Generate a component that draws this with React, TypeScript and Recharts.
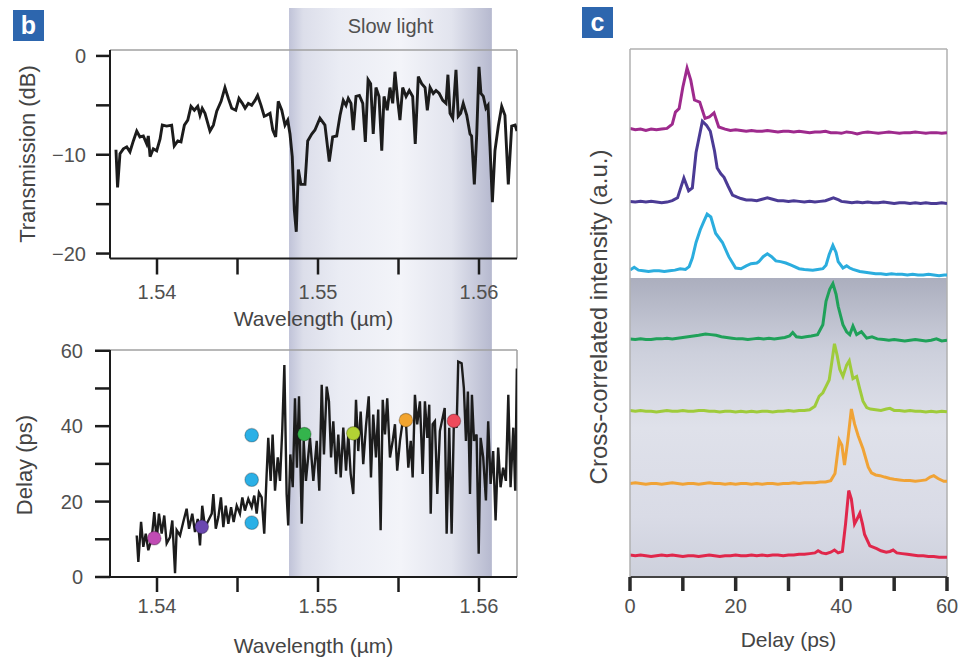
import React from 'react';
import {
  ComposedChart,
  LineChart,
  Line,
  Scatter,
  Cell,
  XAxis,
  YAxis,
  ReferenceArea,
  ReferenceLine,
} from 'recharts';

const FONT = '"Liberation Sans", Arial, Helvetica, sans-serif';
const INK = '#1c1c1c';
const FRAME = '#a0a0a0';
const TICK_TEXT = { fill: '#505050', fontSize: 20, fontFamily: FONT };

// ---- panel b: transmission spectrum (wavelength in µm, transmission in dB)
const wavelength = [
  1.53745, 1.53755, 1.5377, 1.53791, 1.53812, 1.53832, 1.53853, 1.53874, 1.53894, 1.53915,
  1.53936, 1.53946, 1.53957, 1.53977, 1.53998, 1.54019, 1.54033, 1.5406, 1.54091, 1.54107,
  1.54129, 1.54149, 1.5417, 1.54191, 1.54211, 1.54232, 1.54253, 1.54267, 1.54281, 1.54298,
  1.54329, 1.5435, 1.54371, 1.54398, 1.54422, 1.54443, 1.54464, 1.54489, 1.54509, 1.5453,
  1.54547, 1.54567, 1.54588, 1.54609, 1.54625, 1.54646, 1.54666, 1.54681, 1.54702, 1.54719,
  1.54737, 1.54753, 1.54775, 1.54795, 1.54812, 1.54826, 1.5484, 1.54853, 1.54865, 1.54878,
  1.54894, 1.54919, 1.54936, 1.54961, 1.54981, 1.55012, 1.55043, 1.5507, 1.55091, 1.55116,
  1.55137, 1.55157, 1.55174, 1.55188, 1.55205, 1.55219, 1.55236, 1.55257, 1.55278, 1.55294,
  1.55311, 1.55327, 1.55343, 1.5536, 1.55379, 1.55396, 1.5541, 1.5543, 1.55447, 1.55464,
  1.55478, 1.55495, 1.55509, 1.55526, 1.55547, 1.55567, 1.55588, 1.55604, 1.55623, 1.55644,
  1.55665, 1.55679, 1.55696, 1.55716, 1.55733, 1.55753, 1.55775, 1.55795, 1.55807, 1.5582,
  1.55837, 1.55857, 1.55871, 1.55886, 1.55902, 1.55924, 1.55944, 1.55954, 1.55971, 1.55986,
  1.56, 1.56012, 1.56027, 1.56043, 1.56056, 1.56068, 1.56083, 1.56099, 1.5612, 1.56141,
  1.56161, 1.56182, 1.56203, 1.56224, 1.56236,
];
const transmission = [
  -9.5, -13.3, -9.9, -9.4, -9.2, -9.7, -8.6, -7.6, -8.2, -8.1,
  -8.9, -8.1, -10.2, -9.4, -9.6, -8.4, -7.0, -7.1, -7.0, -9.1,
  -8.6, -8.7, -7.0, -6.5, -5.1, -5.5, -5.1, -6.0, -5.3, -5.8,
  -7.6, -7.0, -5.6, -4.6, -3.2, -4.3, -5.3, -5.5, -4.3, -4.8,
  -5.3, -4.8, -5.0, -4.5, -4.0, -5.0, -6.1, -6.0, -5.8, -7.5,
  -8.2, -4.6, -5.5, -7.0, -6.5, -7.9, -10.2, -15.6, -17.8, -11.5,
  -13.0, -13.0, -8.6, -7.9, -7.5, -6.3, -7.0, -10.7, -8.2, -8.1,
  -6.0, -4.5, -5.0, -4.3, -4.8, -7.5, -4.1, -4.0, -4.8, -8.7,
  -2.4, -2.8, -7.9, -3.2, -4.1, -9.6, -4.1, -5.5, -3.2, -4.8,
  -1.6, -4.5, -6.5, -3.2, -4.1, -3.5, -4.1, -8.9, -2.1, -2.8,
  -3.2, -5.5, -3.2, -3.8, -3.5, -3.8, -4.5, -4.8, -1.9, -5.8,
  -6.3, -1.4, -6.1, -5.8, -4.8, -6.0, -7.9, -8.1, -13.0, -7.9,
  -1.1, -3.8, -4.1, -5.3, -5.0, -9.1, -14.8, -9.6, -7.1, -5.1,
  -6.0, -13.0, -7.1, -7.0, -7.6,
];

// ---- panel b: measured delay (wavelength µm, delay ps)
const delayTrace: [number, number][] = [
  [1.53874, 11.0], [1.53884, 4.0], [1.53901, 14.6], [1.53915, 8.0], [1.5393, 11.5],
  [1.53946, 7.1], [1.53967, 10.2], [1.53983, 17.2], [1.53998, 9.7], [1.54012, 16.8],
  [1.54029, 11.5], [1.54045, 16.3], [1.5406, 8.9], [1.54081, 10.6], [1.54095, 15.0],
  [1.54112, 1.0], [1.54122, 12.4], [1.54143, 11.0], [1.54163, 14.6], [1.54184, 18.1],
  [1.54199, 12.8], [1.54219, 16.8], [1.54236, 11.9], [1.54253, 15.4], [1.54267, 8.4],
  [1.54281, 18.9], [1.54298, 13.2], [1.54319, 15.0], [1.5434, 16.8], [1.5435, 22.0],
  [1.54365, 12.8], [1.54381, 15.9], [1.54397, 21.1], [1.54412, 13.2], [1.54427, 18.9],
  [1.54443, 14.1], [1.5446, 18.5], [1.54476, 14.6], [1.54495, 18.9], [1.54515, 16.8],
  [1.5453, 21.1], [1.54546, 17.6], [1.54567, 20.7], [1.54588, 18.5], [1.54604, 21.6],
  [1.54619, 16.8], [1.54633, 22.4], [1.5465, 21.1], [1.54666, 11.5], [1.54681, 27.3],
  [1.54691, 36.9], [1.54706, 25.5], [1.54718, 37.8], [1.54733, 22.9], [1.5475, 31.7],
  [1.54764, 25.5], [1.54778, 39.1], [1.54791, 56.2], [1.54805, 22.0], [1.54815, 13.7],
  [1.54828, 32.5], [1.54843, 23.8], [1.54857, 47.4], [1.54869, 29.0], [1.54882, 47.9],
  [1.54899, 14.1], [1.54911, 36.1], [1.54925, 25.5], [1.5495, 36.9], [1.54971, 25.5],
  [1.54992, 36.1], [1.55008, 22.9], [1.55023, 51.0], [1.55037, 32.5], [1.55054, 50.5],
  [1.55068, 46.6], [1.55081, 31.7], [1.55095, 41.3], [1.55112, 27.3], [1.55126, 37.8],
  [1.55141, 26.4], [1.55157, 39.6], [1.55174, 28.2], [1.55188, 37.8], [1.55203, 27.3],
  [1.55219, 22.0], [1.55236, 47.0], [1.5525, 33.4], [1.55265, 43.9], [1.55281, 29.9],
  [1.55298, 40.0], [1.55315, 47.9], [1.55329, 26.4], [1.55343, 43.1], [1.5536, 31.7],
  [1.55374, 44.4], [1.55389, 12.4], [1.55402, 47.0], [1.55416, 37.8], [1.5543, 47.4],
  [1.55447, 31.7], [1.55464, 36.1], [1.55478, 40.5], [1.55492, 28.2], [1.55509, 36.1],
  [1.55526, 41.3], [1.55546, 41.3], [1.55561, 29.0], [1.55576, 36.1], [1.55588, 26.4],
  [1.55602, 48.3], [1.55616, 40.5], [1.55633, 46.6], [1.5565, 27.3], [1.55664, 46.6],
  [1.55679, 36.9], [1.55691, 45.7], [1.557, 16.8], [1.55712, 40.5], [1.55726, 41.3],
  [1.55741, 22.0], [1.55757, 38.7], [1.55774, 42.2], [1.55787, 44.8], [1.55799, 11.5],
  [1.55815, 39.6], [1.5583, 11.5], [1.55844, 41.3], [1.55861, 39.6], [1.55871, 57.1],
  [1.55892, 56.7], [1.55906, 50.1], [1.55919, 36.1], [1.55931, 49.2], [1.55944, 22.0],
  [1.55956, 48.3], [1.55969, 36.1], [1.55985, 37.8], [1.55998, 6.2], [1.5601, 36.9],
  [1.56026, 31.7], [1.56043, 20.3], [1.56057, 41.3], [1.56072, 24.7], [1.56088, 33.4],
  [1.56103, 15.0], [1.56119, 34.3], [1.56134, 23.8], [1.5615, 29.0], [1.56167, 25.5],
  [1.56182, 48.3], [1.56196, 23.8], [1.56213, 39.6], [1.56225, 22.9], [1.56235, 55.3],
];

// probe pulses marked on the delay curve
const probeWavelength = [1.53983, 1.54278, 1.54588, 1.54588, 1.54588, 1.54915, 1.55219, 1.55546, 1.55844];
const probeDelay = [10.3, 13.3, 37.6, 25.8, 14.4, 37.9, 38.1, 41.6, 41.4];
const probeColors = ['#c04cb4', '#6a47b0', '#2bb0e6', '#2bb0e6', '#2bb0e6', '#34b44c', '#b3d234', '#f2a42e', '#ee4a5c'];

const wlDomain: [number, number] = [1.53708, 1.56236];
const wlTicks = [1.54, 1.545, 1.55, 1.555, 1.56];
const slowLight = [1.5482, 1.5608];

// ---- panel c: cross-correlation traces, [delay ps, intensity a.u.]
const magentaTrace: [number, number][] = [
  [0, 0.02], [1, 0.0], [2, 0.01], [3, -0.01], [4, 0.01], [5, 0.0], [6, 0.01], [7, 0.02], [8, 0.08],
  [8.6, 0.25], [9.3, 0.3], [10, 0.6], [10.8, 0.87], [11.5, 0.7], [12.2, 0.42], [13.2, 0.39],
  [14.2, 0.16], [15, 0.18], [15.9, 0.24], [16.8, 0.04], [18, 0.01], [19, -0.01], [20, 0.0],
  [21, -0.01], [22, -0.02], [23, -0.01], [24, -0.02], [25, -0.02], [26, -0.01], [27, -0.02],
  [28, -0.03], [29, -0.02], [30, -0.02], [31, -0.03], [32, -0.02], [33, -0.03], [34, -0.04],
  [35, -0.03], [36, -0.03], [37, -0.02], [38, -0.04], [39, -0.04], [40, -0.05], [41, -0.03],
  [42, -0.04], [43, -0.06], [44, -0.04], [45, -0.03], [46, -0.04], [47, -0.05], [48, -0.04],
  [49, -0.03], [50, -0.04], [51, -0.05], [52, -0.04], [53, -0.04], [54, -0.03], [55, -0.04],
  [56, -0.05], [57, -0.04], [58, -0.04], [59, -0.05], [60, -0.04],
];
const indigoTrace: [number, number][] = [
  [0, 0.01], [1, 0.0], [2, 0.01], [3, 0.0], [4, 0.01], [5, 0.0], [6, -0.01], [7, 0.0], [8, 0.02],
  [9, 0.06], [9.6, 0.2], [10.2, 0.34], [11.1, 0.16], [11.8, 0.2], [12.5, 0.7], [13.7, 1.14],
  [14.5, 1.08], [15.2, 1.0], [16, 0.72], [16.5, 0.48], [17.2, 0.4], [17.8, 0.35], [18.6, 0.22],
  [19.4, 0.1], [20.3, 0.07], [21, 0.05], [22, 0.03], [23, 0.03], [24, 0.02], [25, 0.04],
  [26, 0.06], [27, 0.04], [28, 0.02], [29, 0.02], [30, 0.01], [31, 0.02], [32, 0.01], [33, 0.0],
  [34, 0.01], [35, 0.0], [36, 0.01], [37, 0.02], [38.5, 0.06], [39.5, 0.03], [40, 0.01],
  [41, 0.0], [42, -0.01], [43, 0.0], [44, -0.01], [45, 0.0], [46, -0.01], [47, -0.01], [48, 0.0],
  [49, -0.01], [50, -0.02], [51, -0.01], [52, -0.01], [53, -0.02], [54, -0.01], [55, -0.02],
  [56, -0.01], [57, -0.02], [58, -0.02], [59, -0.01], [60, -0.02],
];
const cyanTrace: [number, number][] = [
  [0, 0.03], [0.8, 0.07], [1.6, 0.03], [2.5, 0.02], [3.5, 0.01], [4.5, 0.02], [5.5, 0.02],
  [6.5, 0.01], [7.5, 0.02], [8.5, 0.03], [9.5, 0.05], [10.5, 0.04], [11.2, 0.08], [11.8, 0.2],
  [12.5, 0.42], [13.3, 0.6], [14, 0.72], [14.6, 0.82], [15.3, 0.78], [16.2, 0.55], [17.5, 0.42],
  [18.7, 0.22], [20, 0.06], [21, 0.05], [22, 0.09], [22.9, 0.12], [24, 0.13], [24.4, 0.15],
  [25.2, 0.22], [26, 0.26], [26.8, 0.22], [27.6, 0.16], [28.5, 0.15], [29.5, 0.13], [30.5, 0.1],
  [32, 0.05], [33, 0.04], [34.6, 0.03], [35.5, 0.04], [36.5, 0.05], [37.1, 0.1], [37.7, 0.25],
  [38.4, 0.38], [39, 0.28], [39.4, 0.15], [40.3, 0.06], [41, 0.09], [41.6, 0.06], [42.2, 0.04],
  [43.5, 0.01], [44.5, 0.0], [45.5, -0.01], [46.5, -0.02], [47.5, -0.02], [48.5, -0.03],
  [49.5, -0.02], [50.5, -0.03], [51.5, -0.03], [52.5, -0.04], [53.5, -0.03], [54.5, -0.04],
  [55.5, -0.04], [56.5, -0.03], [57.5, -0.04], [58.5, -0.05], [59.5, -0.04], [60, -0.04],
];
const greenTrace: [number, number][] = [
  [0, 0.02], [1, 0.01], [2, 0.02], [3, 0.01], [4, 0.01], [5, 0.02], [6, 0.02], [7, 0.03], [8, 0.02],
  [9, 0.03], [10, 0.04], [11, 0.05], [12, 0.06], [13, 0.07], [14.3, 0.09], [15.3, 0.08],
  [16.3, 0.07], [17.3, 0.05], [18.3, 0.04], [19.3, 0.03], [20.3, 0.02], [21.3, 0.02], [22.3, 0.01],
  [23.3, 0.02], [24.3, 0.03], [25.3, 0.02], [26.3, 0.03], [27.3, 0.02], [28.3, 0.03], [29.3, 0.04],
  [30.2, 0.06], [30.8, 0.11], [31.5, 0.05], [32.5, 0.04], [33.3, 0.05], [34.3, 0.06], [35.5, 0.08],
  [36.5, 0.22], [37.1, 0.55], [37.8, 0.72], [38.4, 0.8], [39, 0.65], [39.4, 0.48], [40.3, 0.22],
  [41, 0.12], [41.6, 0.08], [42.2, 0.2], [42.9, 0.08], [43.8, 0.12], [44.8, 0.03], [45.8, 0.05],
  [46.8, 0.02], [48, 0.01], [49, 0.0], [50, 0.01], [51, 0.0], [52, -0.01], [53, 0.0], [54, 0.01],
  [55, 0.0], [56, -0.01], [57, 0.0], [58, 0.02], [59, -0.01], [60, 0.0],
];
const limeTrace: [number, number][] = [
  [0, 0.02], [1, 0.01], [2, 0.02], [3, 0.01], [4, 0.01], [5, 0.0], [6, 0.01], [7, 0.02], [8, 0.01],
  [9, 0.01], [10, 0.02], [11, 0.01], [12, 0.01], [13, 0.02], [14, 0.02], [15, 0.01], [16, 0.01],
  [17, 0.0], [18, 0.01], [19, 0.01], [20, 0.0], [21, 0.01], [22, 0.0], [23, 0.01], [24, 0.0],
  [25, 0.01], [26, 0.01], [27, 0.0], [28, 0.01], [29, 0.01], [30, 0.02], [31, 0.01], [32, 0.02],
  [33, 0.02], [34, 0.03], [35, 0.08], [35.8, 0.22], [36.5, 0.27], [37.1, 0.36], [37.7, 0.45],
  [38.1, 0.65], [38.7, 0.96], [39.2, 0.8], [39.7, 0.6], [40.3, 0.5], [41, 0.66], [41.5, 0.72],
  [42.2, 0.47], [42.9, 0.5], [43.5, 0.32], [44.1, 0.15], [44.8, 0.06], [45.5, 0.04], [46.5, 0.03],
  [47.5, 0.02], [48.5, 0.04], [49.2, 0.05], [50, 0.02], [51, 0.02], [52, 0.01], [53, 0.02],
  [54, 0.01], [55, 0.01], [56, 0.0], [57, 0.01], [58, 0.0], [59, 0.01], [60, 0.0],
];
const orangeTrace: [number, number][] = [
  [0, 0.01], [1, 0.02], [2, 0.01], [3, 0.0], [4, 0.01], [5, 0.01], [6, 0.0], [7, 0.01], [8, 0.02],
  [9, 0.01], [10, 0.0], [11, 0.01], [12, 0.01], [13, 0.0], [14, 0.01], [15, 0.02], [16, 0.01],
  [17, 0.01], [18, 0.0], [19, 0.01], [20, 0.0], [21, 0.01], [22, 0.01], [23, 0.0], [24, 0.01],
  [25, 0.0], [26, 0.01], [27, 0.01], [28, 0.0], [29, 0.01], [30, 0.01], [31, 0.02], [32, 0.01],
  [33, 0.02], [34, 0.02], [35, 0.02], [36, 0.03], [37, 0.03], [38, 0.05], [38.8, 0.15],
  [39.6, 0.62], [40.1, 0.55], [40.6, 0.27], [41.2, 0.6], [41.9, 1.06], [42.5, 0.85], [43.2, 0.68],
  [44.1, 0.5], [45.1, 0.24], [45.7, 0.16], [46.5, 0.13], [47.3, 0.12], [48.2, 0.1], [49.2, 0.08],
  [50, 0.07], [51, 0.06], [52, 0.05], [53, 0.05], [54, 0.04], [55, 0.05], [56, 0.06], [56.8, 0.1],
  [57.5, 0.12], [58.3, 0.08], [59.4, 0.04], [60, 0.04],
];
const redTrace: [number, number][] = [
  [0, 0.01], [1, 0.0], [2, 0.01], [3, 0.0], [4, -0.01], [5, 0.0], [6, 0.01], [7, 0.0], [8, 0.01],
  [9, 0.0], [10, -0.01], [11, 0.0], [12, 0.0], [13, -0.01], [14, 0.0], [15, 0.01], [16, 0.0],
  [17, -0.01], [18, 0.0], [19, 0.0], [20, 0.01], [21, 0.0], [22, 0.0], [23, 0.01], [24, 0.0],
  [25, 0.01], [26, 0.0], [27, 0.01], [28, 0.01], [29, 0.0], [30, 0.01], [31, 0.01], [32, 0.02],
  [33, 0.02], [34, 0.03], [35, 0.04], [35.6, 0.07], [36.3, 0.04], [37.1, 0.03], [38, 0.05],
  [38.7, 0.08], [39.4, 0.04], [40.2, 0.06], [40.8, 0.45], [41.4, 0.92], [41.9, 0.8], [42.5, 0.45],
  [43, 0.52], [43.5, 0.6], [44, 0.45], [44.4, 0.3], [45.4, 0.14], [46.7, 0.1], [47.5, 0.07],
  [48.5, 0.05], [49.2, 0.06], [49.8, 0.08], [50.5, 0.04], [51.5, 0.03], [52.5, 0.02], [53.5, 0.01],
  [54.5, 0.0], [55.5, 0.0], [56.5, -0.01], [57.5, -0.01], [58.5, -0.02], [59.5, -0.02], [60, -0.02],
];

const traces = [magentaTrace, indigoTrace, cyanTrace, greenTrace, limeTrace, orangeTrace, redTrace];
const traceOffsets = [6.31, 5.29, 4.3, 3.34, 2.33, 1.31, 0.3];
const traceColors = ['#9e2a8d', '#4b3b95', '#2badde', '#1fa159', '#9fcb3b', '#f0a336', '#e0274b'];
const delayTicks = [0, 10, 20, 30, 40, 50, 60];

const transmissionData = wavelength.map((w, i) => ({ w, t: transmission[i] }));
const delayData = delayTrace.map(([w, d]) => ({ w, d }));
const probeData = probeWavelength.map((w, i) => ({ w, d: probeDelay[i] }));

const fmtWl = (v: number) => (Math.abs(v * 100 - Math.round(v * 100)) < 1e-6 ? v.toFixed(2) : '');
const fmtDb = (v: number) => (v === 0 ? '0' : v % 10 === 0 ? `\u2212${Math.abs(v)}` : '');
const fmtEvery20 = (v: number) => (v % 20 === 0 ? String(v) : '');

const BandGradient = ({ id }: { id: string }) => (
  <defs>
    <linearGradient id={id} x1="0" y1="0" x2="1" y2="0">
      <stop offset="0%" stopColor="#c0c3d8" />
      <stop offset="7%" stopColor="#dcdeea" />
      <stop offset="25%" stopColor="#eaecf4" />
      <stop offset="55%" stopColor="#f3f4f9" />
      <stop offset="80%" stopColor="#e2e4ee" />
      <stop offset="100%" stopColor="#b6b9cf" />
    </linearGradient>
  </defs>
);

const axisInk = { stroke: INK, strokeWidth: 2 };
const tickInk = { stroke: INK, strokeWidth: 2.5 };

function TransmissionChart() {
  return (
    <LineChart width={560} height={352} data={transmissionData} margin={{ top: 50, right: 43, bottom: 21.5, left: 0 }}>
      <BandGradient id="bandT" />
      <ReferenceArea
        x1={slowLight[0]}
        x2={slowLight[1]}
        y1={-29.8}
        y2={4.85}
        ifOverflow="visible"
        fill="url(#bandT)"
        fillOpacity={1}
        stroke="none"
        label={{ value: 'Slow light', position: 'insideTop', offset: 11, fill: '#505050', fontSize: 20, fontFamily: FONT }}
      />
      <XAxis
        dataKey="w"
        type="number"
        domain={wlDomain}
        allowDataOverflow
        ticks={wlTicks}
        interval={0}
        tickFormatter={fmtWl}
        height={72}
        axisLine={axisInk}
        tickLine={tickInk}
        tickSize={16}
        tickMargin={10}
        tick={TICK_TEXT}
        label={{ value: 'Wavelength (µm)', position: 'insideBottom', offset: 5, fill: '#444', fontSize: 21, fontFamily: FONT }}
      />
      <YAxis
        type="number"
        domain={[-20.5, 0.6]}
        allowDataOverflow
        ticks={[-20, -15, -10, -5, 0]}
        interval={0}
        width={110}
        tickFormatter={fmtDb}
        axisLine={axisInk}
        tickLine={tickInk}
        tickSize={14}
        tickMargin={10}
        tick={TICK_TEXT}
      />
      <ReferenceLine y={0.6} stroke={FRAME} strokeWidth={1.5} />
      <ReferenceLine x={wlDomain[1]} stroke={FRAME} strokeWidth={1.5} />
      <Line dataKey="t" type="linear" stroke={INK} strokeWidth={2.9} dot={false} isAnimationActive={false} />
      <text
        x={27}
        y={154}
        transform="rotate(-90 27 154)"
        textAnchor="middle"
        dominantBaseline="central"
        fontSize={22}
        fill="#444"
        fontFamily={FONT}
      >
        Transmission (dB)
      </text>
    </LineChart>
  );
}

function DelayChart() {
  return (
    <ComposedChart width={560} height={333} margin={{ top: 20, right: 43, bottom: 6, left: 0 }}>
      <BandGradient id="bandD" />
      <ReferenceArea x1={slowLight[0]} x2={slowLight[1]} y1={0} y2={60.2} fill="url(#bandD)" fillOpacity={1} stroke="none" />
      <XAxis
        dataKey="w"
        type="number"
        domain={wlDomain}
        allowDataOverflow
        ticks={wlTicks}
        interval={0}
        tickFormatter={fmtWl}
        height={80}
        axisLine={axisInk}
        tickLine={tickInk}
        tickSize={15}
        tickMargin={7}
        tick={TICK_TEXT}
        label={{ value: 'Wavelength (µm)', position: 'insideBottom', offset: 4, fill: '#444', fontSize: 21, fontFamily: FONT }}
      />
      <YAxis
        dataKey="d"
        type="number"
        domain={[0, 60.2]}
        allowDataOverflow
        ticks={delayTicks}
        interval={0}
        width={110}
        tickFormatter={fmtEvery20}
        axisLine={axisInk}
        tickLine={tickInk}
        tickSize={15}
        tickMargin={12}
        tick={TICK_TEXT}
      />
      <ReferenceLine y={60.2} stroke={FRAME} strokeWidth={1.5} />
      <ReferenceLine x={wlDomain[1]} stroke={FRAME} strokeWidth={1.5} />
      <Line data={delayData} dataKey="d" type="linear" stroke={INK} strokeWidth={2.4} dot={false} isAnimationActive={false} />
      <Scatter
        data={probeData}
        dataKey="d"
        isAnimationActive={false}
        shape={(p: any) => (
          <circle cx={p.cx} cy={p.cy} r={6.8} fill={p.fill} stroke="rgba(0,0,0,0.25)" strokeWidth={1.2} />
        )}
      >
        {probeColors.map((c, i) => (
          <Cell key={i} fill={c} />
        ))}
      </Scatter>
      <text
        x={24}
        y={135}
        transform="rotate(-90 24 135)"
        textAnchor="middle"
        dominantBaseline="central"
        fontSize={22}
        fill="#444"
        fontFamily={FONT}
      >
        Delay (ps)
      </text>
    </ComposedChart>
  );
}

function CrossCorrelationChart() {
  return (
    <LineChart width={398} height={663} margin={{ top: 49, right: 11, bottom: 6, left: 0 }}>
      <defs>
        <linearGradient id="shadeC" x1="0" y1="0" x2="0" y2="1">
          <stop offset="0%" stopColor="#abaebe" />
          <stop offset="25%" stopColor="#cdd0dc" />
          <stop offset="50%" stopColor="#dfe1ea" />
          <stop offset="80%" stopColor="#d9dbe6" />
          <stop offset="100%" stopColor="#cdd0dc" />
        </linearGradient>
      </defs>
      <ReferenceArea x1={0} x2={60} y1={0} y2={4.22} fill="url(#shadeC)" fillOpacity={1} stroke="none" />
      <XAxis
        dataKey="t"
        type="number"
        domain={[0, 60]}
        allowDataOverflow
        ticks={delayTicks}
        interval={0}
        tickFormatter={fmtEvery20}
        height={80}
        axisLine={{ stroke: '#444', strokeWidth: 2 }}
        tickLine={{ stroke: '#2a2a2a', strokeWidth: 3.5 }}
        tickSize={14}
        tickMargin={8}
        tick={TICK_TEXT}
        label={{ value: 'Delay (ps)', position: 'insideBottom', offset: 10, fill: '#444', fontSize: 21, fontFamily: FONT }}
      />
      <YAxis
        type="number"
        domain={[0, 7.45]}
        allowDataOverflow
        width={70}
        tick={false}
        tickLine={false}
        axisLine={{ stroke: '#b0b0b0', strokeWidth: 1.5 }}
      />
      <ReferenceLine y={7.45} stroke="#b0b0b0" strokeWidth={1.5} />
      <ReferenceLine x={60} stroke="#b0b0b0" strokeWidth={1.5} />
      {traces.map((tr, i) => (
        <Line
          key={i}
          data={tr.map(([t, v]) => ({ t, v: v + traceOffsets[i] }))}
          dataKey="v"
          type="linear"
          stroke={traceColors[i]}
          strokeWidth={3}
          dot={false}
          isAnimationActive={false}
        />
      ))}
      <text
        x={38}
        y={317}
        transform="rotate(-90 38 317)"
        textAnchor="middle"
        dominantBaseline="central"
        fontSize={24}
        fill="#444"
        fontFamily={FONT}
      >
        Cross-correlated intensity (a.u.)
      </text>
    </LineChart>
  );
}

const panelTag = (left: number, top: number, letter: string) => (
  <div
    style={{
      position: 'absolute',
      left,
      top,
      width: 31,
      height: 31,
      background: '#2d66ae',
      color: '#fff',
      fontFamily: FONT,
      fontWeight: 700,
      fontSize: 25,
      lineHeight: '30px',
      textAlign: 'center',
    }}
  >
    {letter}
  </div>
);

export default function App() {
  return (
    <div style={{ position: 'absolute', left: 0, top: 0, width: 958, height: 663, background: '#fff', overflow: 'hidden' }}>
      <div style={{ position: 'absolute', left: 0, top: 0 }}>
        <TransmissionChart />
      </div>
      <div style={{ position: 'absolute', left: 0, top: 330 }}>
        <DelayChart />
      </div>
      <div style={{ position: 'absolute', left: 560, top: 0 }}>
        <CrossCorrelationChart />
      </div>
      {panelTag(13, 10, 'b')}
      {panelTag(582, 7, 'c')}
    </div>
  );
}
